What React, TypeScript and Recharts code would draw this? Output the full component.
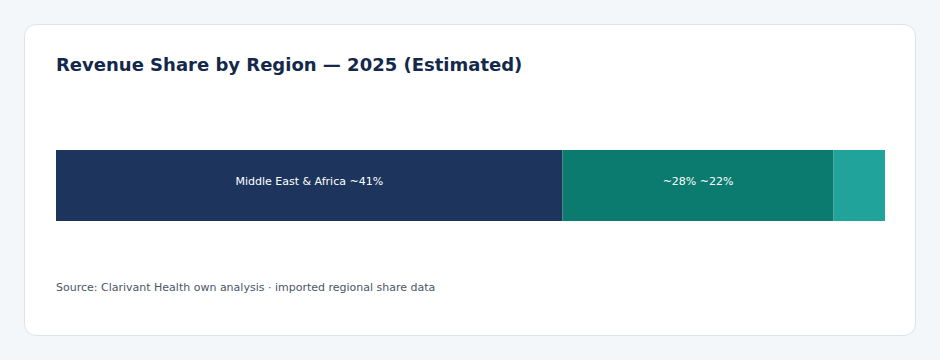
import { Bar, BarChart, LabelList, XAxis, YAxis } from "recharts";

const regions = ["Middle East & Africa", "Other", "Remainder"];
const shares = [61.1, 32.7, 6.2];
const segmentLabels = ["Middle East & Africa ~41%", "~28% ~22%", ""];
const colors = ["#1d355d", "#0b7b70", "#20a39a"];

const row: Record<string, string | number> = { name: "2025" };
regions.forEach((r, i) => {
  row[`s${i}`] = shares[i];
});
const data = [row];

const font = "'DejaVu Sans', Verdana, sans-serif";

export default function App() {
  return (
    <div
      style={{
        position: "fixed",
        left: 0,
        top: 0,
        width: 940,
        height: 360,
        background: "#f4f7fa",
        fontFamily: font,
      }}
    >
      <div
        style={{
          position: "absolute",
          left: 24,
          top: 24,
          width: 892,
          height: 312,
          boxSizing: "border-box",
          background: "#ffffff",
          border: "1px solid #dde3eb",
          borderRadius: 12,
        }}
      />
      <div
        style={{
          position: "absolute",
          left: 56,
          top: 53,
          fontSize: 18,
          lineHeight: "24px",
          fontWeight: 700,
          color: "#13284a",
          whiteSpace: "nowrap",
        }}
      >
        Revenue Share by Region — 2025 (Estimated)
      </div>
      <div style={{ position: "absolute", left: 56, top: 150 }}>
        <BarChart
          width={829}
          height={71}
          data={data}
          layout="vertical"
          margin={{ top: 0, right: 0, bottom: 0, left: 0 }}
          barCategoryGap={0}
        >
          <XAxis type="number" hide domain={[0, 100]} />
          <YAxis type="category" dataKey="name" hide />
          {regions.map((r, i) => (
            <Bar
              key={r}
              dataKey={`s${i}`}
              name={r}
              stackId="a"
              fill={colors[i]}
              isAnimationActive={false}
            >
              {segmentLabels[i] ? (
                <LabelList
                  position="center"
                  content={(p: any) => (
                    <text
                      x={p.x + p.width / 2}
                      y={p.y + p.height / 2 - 1}
                      textAnchor="middle"
                      fill="#ffffff"
                      fontSize={11}
                      fontFamily={font}
                    >
                      {segmentLabels[i]}
                    </text>
                  )}
                />
              ) : null}
            </Bar>
          ))}
        </BarChart>
      </div>
      <div
        style={{
          position: "absolute",
          left: 56,
          top: 281,
          fontSize: 11,
          lineHeight: "14px",
          color: "#4a5568",
          whiteSpace: "nowrap",
        }}
      >
        Source: Clarivant Health own analysis · imported regional share data
      </div>
    </div>
  );
}
